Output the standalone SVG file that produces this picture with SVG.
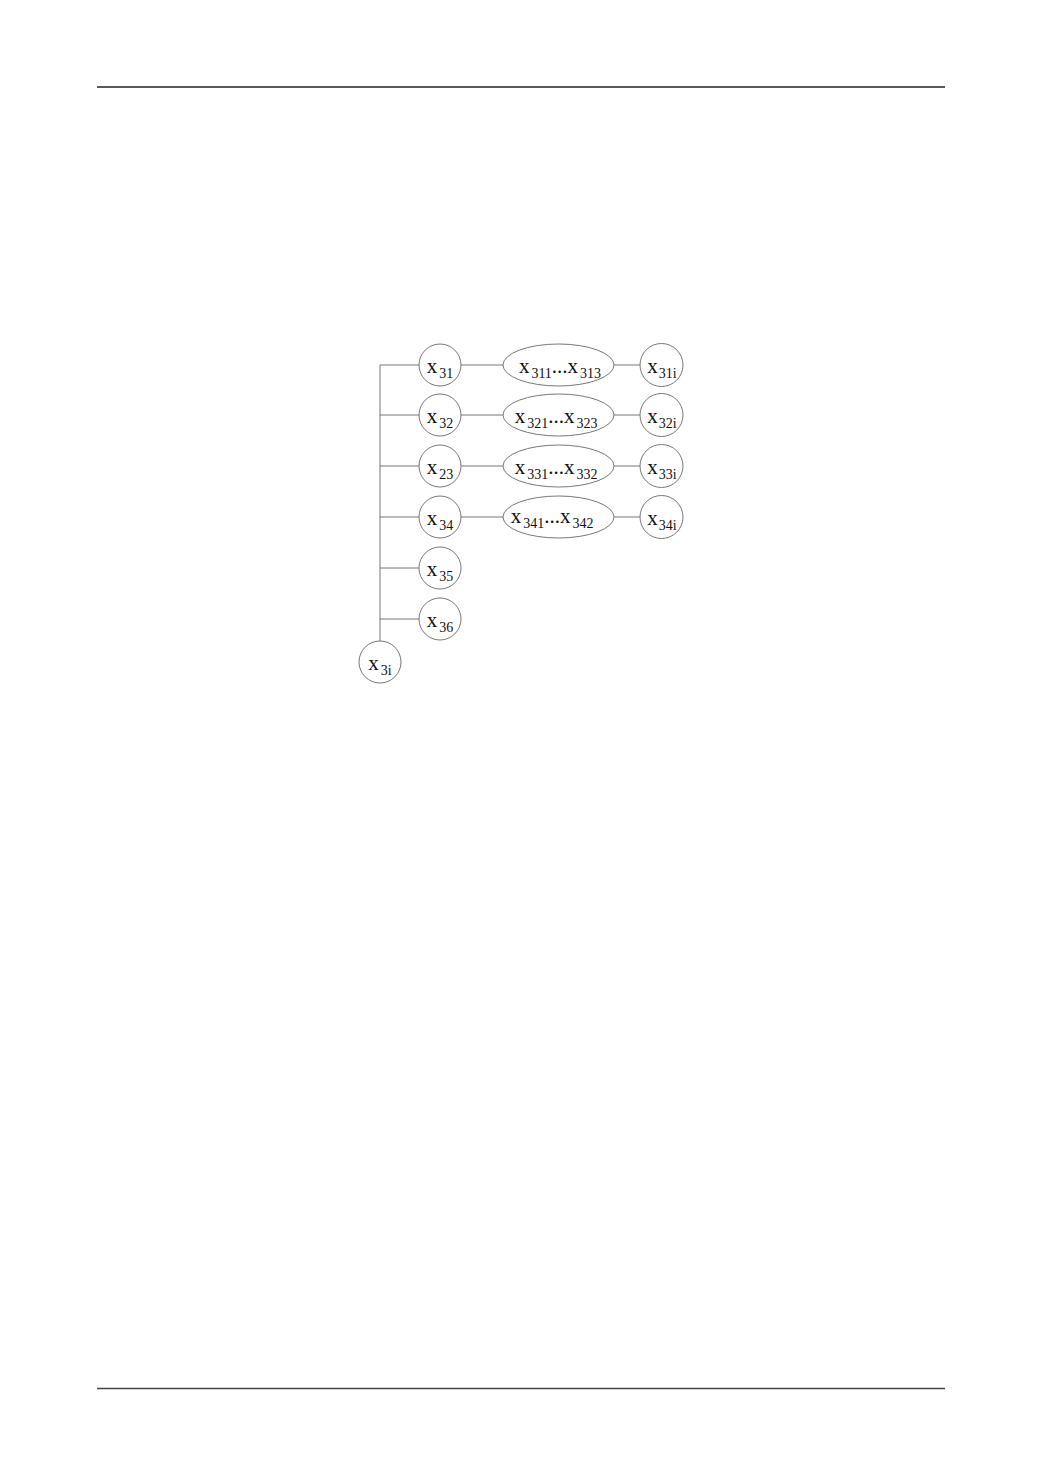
<svg xmlns="http://www.w3.org/2000/svg" width="1040" height="1473" viewBox="0 0 1040 1473">
<style>
.n{fill:#fff;stroke:#777;stroke-width:1}
.c{stroke:#777;stroke-width:1;fill:none}
.t{font-family:"Liberation Serif","Times New Roman",serif;font-size:21px;fill:#111;text-anchor:middle}
.s{font-size:14px}
</style>
<rect width="1040" height="1473" fill="#fff"/>
<line x1="97" y1="87" x2="945" y2="87" stroke="#222" stroke-width="1.3"/>
<line x1="97" y1="1388.5" x2="945" y2="1388.5" stroke="#444" stroke-width="1.3"/>
<g id="connectors">
<line class="c" x1="380" y1="365" x2="380" y2="641"/>
<line class="c" x1="380" y1="365" x2="419" y2="365"/>
<line class="c" x1="380" y1="415" x2="419" y2="415"/>
<line class="c" x1="380" y1="466" x2="419" y2="466"/>
<line class="c" x1="380" y1="517" x2="419" y2="517"/>
<line class="c" x1="380" y1="568" x2="419" y2="568"/>
<line class="c" x1="380" y1="619" x2="419" y2="619"/>
<line class="c" x1="461" y1="365" x2="503" y2="365"/>
<line class="c" x1="461" y1="415" x2="503" y2="415"/>
<line class="c" x1="461" y1="466" x2="503" y2="466"/>
<line class="c" x1="461" y1="517" x2="503" y2="517"/>
<line class="c" x1="614" y1="365" x2="640" y2="365"/>
<line class="c" x1="614" y1="415" x2="640" y2="415"/>
<line class="c" x1="614" y1="466" x2="640" y2="466"/>
<line class="c" x1="614" y1="517" x2="640" y2="517"/>
</g>
<g id="x31"><circle class="n" cx="440" cy="365" r="21"/><text class="t" x="440" y="373">x<tspan class="s" dx="2" dy="5">31</tspan></text></g>
<g id="x32"><circle class="n" cx="440" cy="415" r="21"/><text class="t" x="440" y="423">x<tspan class="s" dx="2" dy="5">32</tspan></text></g>
<g id="x23"><circle class="n" cx="440" cy="466" r="21"/><text class="t" x="440" y="474">x<tspan class="s" dx="2" dy="5">23</tspan></text></g>
<g id="x34"><circle class="n" cx="440" cy="517" r="21"/><text class="t" x="440" y="525">x<tspan class="s" dx="2" dy="5">34</tspan></text></g>
<g id="x35"><circle class="n" cx="440" cy="568" r="21"/><text class="t" x="440" y="576">x<tspan class="s" dx="2" dy="5">35</tspan></text></g>
<g id="x36"><circle class="n" cx="440" cy="619" r="21"/><text class="t" x="440" y="627">x<tspan class="s" dx="2" dy="5">36</tspan></text></g>
<g id="x3i"><circle class="n" cx="380" cy="662" r="21"/><text class="t" x="380" y="670">x<tspan class="s" dx="2" dy="5">3i</tspan></text></g>
<g id="e31"><ellipse class="n" cx="558.5" cy="365" rx="55.5" ry="21"/><text class="t" x="560" y="373">x<tspan class="s" dx="2" dy="5">311</tspan><tspan dy="-5">...x</tspan><tspan class="s" dx="2" dy="5">313</tspan></text></g>
<g id="e32"><ellipse class="n" cx="558.5" cy="415" rx="55.5" ry="21"/><text class="t" x="556" y="423">x<tspan class="s" dx="2" dy="5">321</tspan><tspan dy="-5">...x</tspan><tspan class="s" dx="2" dy="5">323</tspan></text></g>
<g id="e33"><ellipse class="n" cx="558.5" cy="466" rx="55.5" ry="21"/><text class="t" x="556" y="474">x<tspan class="s" dx="2" dy="5">331</tspan><tspan dy="-5">...x</tspan><tspan class="s" dx="2" dy="5">332</tspan></text></g>
<g id="e34"><ellipse class="n" cx="558.5" cy="517" rx="55.5" ry="21"/><text class="t" x="552" y="523">x<tspan class="s" dx="2" dy="5">341</tspan><tspan dy="-5">...x</tspan><tspan class="s" dx="2" dy="5">342</tspan></text></g>
<g id="x31i"><circle class="n" cx="661.5" cy="365" r="21.5"/><text class="t" x="662" y="373">x<tspan class="s" dx="1" dy="5">31i</tspan></text></g>
<g id="x32i"><circle class="n" cx="661.5" cy="415" r="21.5"/><text class="t" x="662" y="423">x<tspan class="s" dx="1" dy="5">32i</tspan></text></g>
<g id="x33i"><circle class="n" cx="661.5" cy="466" r="21.5"/><text class="t" x="662" y="474">x<tspan class="s" dx="1" dy="5">33i</tspan></text></g>
<g id="x34i"><circle class="n" cx="661.5" cy="517" r="21.5"/><text class="t" x="662" y="525">x<tspan class="s" dx="1" dy="5">34i</tspan></text></g>
</svg>
